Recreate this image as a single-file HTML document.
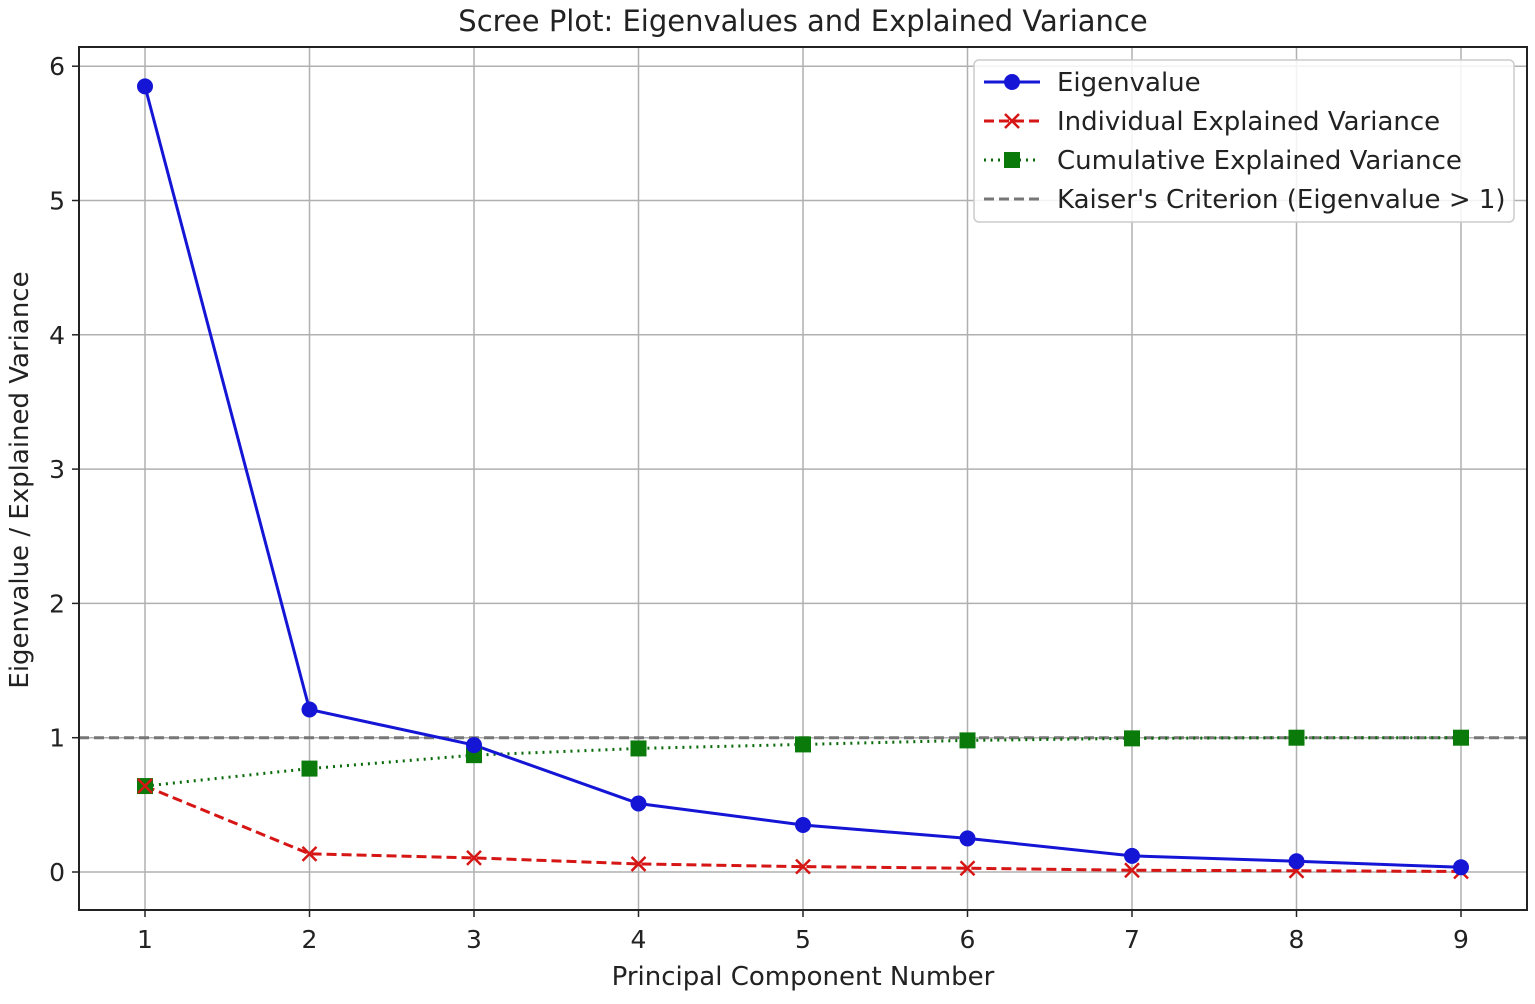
<!DOCTYPE html>
<html><head><meta charset="utf-8"><style>
body{margin:0;background:#fff;font-family:"Liberation Sans","DejaVu Sans",sans-serif;}
svg text{font-family:"DejaVu Sans","Liberation Sans",sans-serif;fill:#222;}
</style></head><body>
<svg id="chart" width="1535" height="999" viewBox="0 0 1535 999" xmlns="http://www.w3.org/2000/svg">
<text x="803" y="31" font-size="29" text-anchor="middle">Scree Plot: Eigenvalues and Explained Variance</text>
<g id="grid"></g>
<g id="series"></g>
<rect x="79" y="47" width="1448" height="863" fill="none" stroke="#222" stroke-width="2"/>
<text x="803" y="985" font-size="26" text-anchor="middle">Principal Component Number</text>
<text transform="translate(28,480) rotate(-90)" font-size="26" text-anchor="middle">Eigenvalue / Explained Variance</text>
<g>
<rect x="974" y="60" width="540" height="162" rx="5" fill="#fff" fill-opacity="0.85" stroke="#ccc" stroke-width="1.5"/>
<g><line x1="984" y1="82" x2="1040" y2="82" stroke="#1515d6" stroke-width="3"/><circle cx="1012" cy="82" r="8" fill="#1515d6"/><text x="1057" y="91" font-size="26">Eigenvalue</text></g>
<g><line x1="984" y1="121" x2="1040" y2="121" stroke="#d61515" stroke-width="3" stroke-dasharray="10,5"/><path d="M1005 114 l14 14 M1019 114 l-14 14" stroke="#d61515" stroke-width="2.5"/><text x="1057" y="130" font-size="26">Individual Explained Variance</text></g>
<g><line x1="984" y1="160" x2="1040" y2="160" stroke="#0a6b0a" stroke-width="3" stroke-dasharray="2,5"/><rect x="1004" y="152" width="16" height="16" fill="#0a7a0a"/><text x="1057" y="169" font-size="26">Cumulative Explained Variance</text></g>
<g><line x1="984" y1="199" x2="1040" y2="199" stroke="#777" stroke-width="3" stroke-dasharray="10,5"/><text x="1057" y="208" font-size="26">Kaiser's Criterion (Eigenvalue &gt; 1)</text></g>
</g>
</svg>
<script>
const components=[1,2,3,4,5,6,7,8,9];
const eigenvalues=[5.85,1.21,0.945,0.51,0.35,0.25,0.12,0.08,0.035];
const individualVar=[0.64,0.135,0.105,0.06,0.04,0.028,0.013,0.009,0.004];
const cumulativeVar=[0.64,0.77,0.87,0.92,0.95,0.98,0.995,1.0,1.0];
const yTicks=[0,1,2,3,4,5,6];
const kaiser=1;
const NS="http://www.w3.org/2000/svg";
const L=79,R=1527,T=47,B=910;
function xs(v){return 145+(v-1)*164.5;}
function ys(v){return 872-v*134.3;}
function mk(tag,attrs,parent){const e=document.createElementNS(NS,tag);for(const k in attrs)e.setAttribute(k,attrs[k]);parent.appendChild(e);return e;}
const grid=document.getElementById('grid'),ser=document.getElementById('series');
components.forEach(c=>{
 const g=mk('line',{x1:xs(c),x2:xs(c),y1:T,y2:B,stroke:'#b0b0b0','stroke-width':1.5},grid);
 
 
 mk('line',{x1:xs(c),x2:xs(c),y1:B,y2:B+7,stroke:'#222','stroke-width':1.5},grid);
 const t=mk('text',{x:xs(c),y:B+38,'font-size':25,'text-anchor':'middle'},grid);t.textContent=c;
 
 
});
yTicks.forEach(v=>{
 const g=mk('line',{x1:L,x2:R,y1:ys(v),y2:ys(v),stroke:'#b0b0b0','stroke-width':1.5},grid);
 
 
 mk('line',{x1:L-7,x2:L,y1:ys(v),y2:ys(v),stroke:'#222','stroke-width':1.5},grid);
 const t=mk('text',{x:L-14,y:ys(v)+9,'font-size':25,'text-anchor':'end'},grid);t.textContent=v;
 
 
});
const k=mk('line',{x1:L,x2:R,y1:ys(kaiser),y2:ys(kaiser),stroke:'#777','stroke-width':3,'stroke-dasharray':'10,5'},ser);


function pts(arr){return arr.map((v,i)=>xs(components[i])+','+ys(v)).join(' ');}
const cl=mk('polyline',{points:pts(cumulativeVar),fill:'none',stroke:'#0a6b0a','stroke-width':3,'stroke-dasharray':'2,5'},ser);


const il=mk('polyline',{points:pts(individualVar),fill:'none',stroke:'#d61515','stroke-width':3,'stroke-dasharray':'10,5'},ser);


const el=mk('polyline',{points:pts(eigenvalues),fill:'none',stroke:'#1515d6','stroke-width':3},ser);


cumulativeVar.forEach((v,i)=>{const m=mk('rect',{x:xs(components[i])-8,y:ys(v)-8,width:16,height:16,fill:'#0a7a0a'},ser);
 
 });
individualVar.forEach((v,i)=>{const x=xs(components[i]),y=ys(v);const m=mk('path',{d:`M${x-7} ${y-7} l14 14 M${x+7} ${y-7} l-14 14`,stroke:'#d61515','stroke-width':2.5},ser);
 
 });
eigenvalues.forEach((v,i)=>{const m=mk('circle',{cx:xs(components[i]),cy:ys(v),r:8,fill:'#1515d6'},ser);
 
 });
</script>
</body></html>
